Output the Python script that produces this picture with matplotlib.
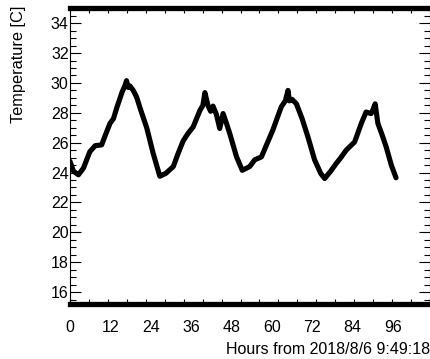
import numpy as np
import matplotlib
matplotlib.use("Agg")
import matplotlib.pyplot as plt
from matplotlib.ticker import MultipleLocator, FixedLocator

hours = [0, 1, 2.5, 4, 5.9, 7.5, 9.4, 10.5, 11.9, 12.9, 14, 15.5, 16.3, 16.8, 17.3, 17.8,
         18.8, 19.8, 21, 22.8, 24.7, 26.7, 28.5, 30.7, 32, 33.6, 35, 36.6, 38.6, 39.5,
         40.1, 41.0, 41.8, 42.5, 43.5, 44.5, 45.5, 46.5, 47.5, 49.5, 51.2, 53.4,
         54.9, 56.9, 58.5, 60.3, 61.5, 62.8, 64.0, 64.8, 65.2, 66, 67.3, 69, 70.7,
         72.7, 74.5, 75.7, 77.5, 79.1, 80.5, 82.1, 84.6, 86.6, 88.0, 89.5, 90.2,
         90.7, 91.5, 92.8, 94.0, 95.5, 96.9]
temps = [24.75, 24.1, 23.85, 24.3, 25.4, 25.8, 25.85, 26.5, 27.3, 27.6, 28.4, 29.4,
         29.8, 30.15, 29.7, 29.8, 29.5, 29.05, 28.2, 27.0, 25.3, 23.75, 23.95, 24.4,
         25.2, 26.1, 26.6, 27.05, 28.15, 28.5, 29.35, 28.5, 28.1, 28.45, 27.9, 26.95,
         27.95, 27.3, 26.6, 25.05, 24.15, 24.4, 24.85, 25.05, 25.9, 26.85, 27.6, 28.4,
         28.8, 29.5, 28.8, 28.9, 28.6, 27.6, 26.4, 24.85, 23.95, 23.6, 24.1, 24.6,
         25.0, 25.5, 26.05, 27.3, 28.05, 27.95, 28.3, 28.6, 27.3, 26.5, 25.7, 24.5,
         23.65]
x_ticks = [0, 12, 24, 36, 48, 60, 72, 84, 96]
y_ticks = [16, 18, 20, 22, 24, 26, 28, 30, 32, 34]

plt.rcParams['font.family'] = ['Liberation Sans', 'DejaVu Sans']

fig = plt.figure(figsize=(4.31, 3.59), dpi=100)
ax = fig.add_axes([70/431, (359-304)/359, 360/431, (304-7.5)/359])
ax.plot(hours, temps, color='black', lw=3.7, solid_joinstyle='round', solid_capstyle='round')

xmax = 107.0
ax.set_xlim(0, xmax)
ax.set_ylim(15.2, 35.05)

ax.xaxis.set_major_locator(FixedLocator(np.linspace(0, xmax, 20)))
ax.set_xticklabels([])
ax.tick_params(axis='x', which='major', direction='in', length=3.5, width=0.8,
               top=True, bottom=True, pad=0)
for t in x_ticks:
    ax.text(t, -0.078, str(t), transform=ax.get_xaxis_transform(),
            ha='center', va='center', fontsize=11.5)

ax.yaxis.set_major_locator(FixedLocator(y_ticks))
ax.yaxis.set_minor_locator(MultipleLocator(0.5))
ax.tick_params(axis='y', which='major', direction='in', length=8, width=0.8,
               left=True, right=True, labelsize=11.5, pad=1)
ax.tick_params(axis='y', which='minor', direction='in', length=4.5, width=0.8,
               left=True, right=True)

for s in ['top', 'bottom']:
    ax.spines[s].set_linewidth(3.8)
for s in ['left', 'right']:
    ax.spines[s].set_linewidth(0.8)

fig.text(19/431, 1 - 64/359, 'Temperature [C]', rotation=90, ha='center', va='center',
         fontsize=11.8)
fig.text(430/431, 1 - 350/359, 'Hours from 2018/8/6 9:49:18', ha='right', va='center',
         fontsize=11.5)

fig.savefig('out.png', dpi=100)
